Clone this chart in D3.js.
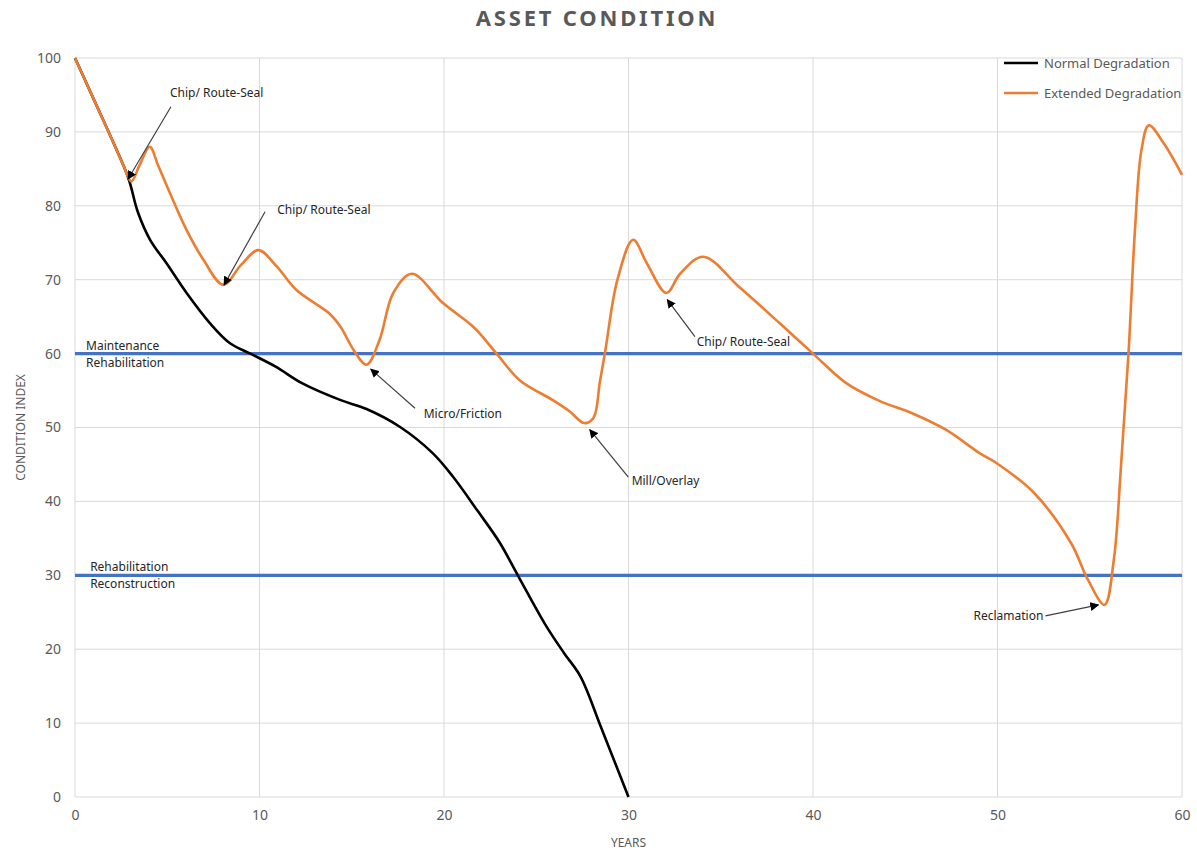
<!DOCTYPE html>
<html>
<head>
<meta charset="utf-8">
<script src="https://cdn.jsdelivr.net/npm/d3@7/dist/d3.min.js"></script>
<style>
  html, body { margin: 0; padding: 0; background: #fff; }
  svg { display: block; }
  text { font-family: "Noto Sans", "Open Sans", sans-serif; }
</style>
</head>
<body>
<svg id="chart" width="1197" height="853"></svg>
<script>
// ---- DATA ----
const chartTitle = "ASSET CONDITION";
const xTicks = [0, 10, 20, 30, 40, 50, 60];
const yTicks = [0, 10, 20, 30, 40, 50, 60, 70, 80, 90, 100];
const seriesNames = ["Normal Degradation", "Extended Degradation"];

const normalYears  = [0, 1, 2, 2.9, 3.4, 4.07, 4.97, 6.05, 7.32, 8.4, 9.5, 10.9, 12.3, 14.4, 15.8, 17.6, 19.4, 20.5, 21.8, 23, 24, 25.5, 26.5, 27.4, 28.5, 30];
const normalValues = [100, 94.5, 89, 83.7, 79.2, 75.4, 72.2, 68.2, 64.1, 61.4, 60, 58.2, 56, 53.7, 52.5, 50.1, 46.5, 43.3, 38.8, 34.5, 30, 23.3, 19.5, 16.3, 9.5, 0];

const extendedYears  = [0, 1, 2, 2.6, 3.05, 3.5, 4.05, 4.5, 5.15, 6.05, 6.96, 8.04, 9, 9.94, 10.93, 12, 13.8, 14.4, 15.1, 15.8, 16.5, 17.25, 18.25, 19.96, 21.6, 22.85, 24.1, 25.9, 26.8, 27.6, 28.1, 28.45, 28.75, 29.4, 30.25, 31, 32.05, 32.8, 34.05, 36, 38.2, 40, 41.8, 43.6, 45.4, 47.2, 49.05, 50, 52, 54, 54.9, 55.8, 56.3, 56.7, 57.1, 57.45, 57.8, 58.2, 59, 60];
const extendedValues = [100, 94.5, 89, 85.6, 83.3, 85.5, 88, 85.5, 81.7, 76.7, 72.7, 69.3, 72, 74, 71.8, 68.6, 65.4, 63.6, 60.5, 58.5, 61.8, 68.2, 70.8, 66.8, 63.6, 60, 56.4, 53.7, 52.2, 50.6, 51.3, 56.2, 60.5, 70, 75.4, 72.2, 68.2, 70.8, 73.1, 69, 64.1, 60, 56, 53.6, 51.9, 49.7, 46.5, 45.1, 41.1, 34.3, 29.4, 26, 32, 45, 60, 76.7, 87.5, 90.9, 88.5, 84.2];

const thresholdValues = [60, 30];
const thresholdLabels = [["Maintenance", "Rehabilitation"], ["Rehabilitation", "Reconstruction"]];
const thresholdLabelYears = [0.6, 0.82];

// annotations: label position (year, value) & arrow (from -> to) in data units
const annoTexts = ["Chip/ Route-Seal", "Chip/ Route-Seal", "Micro/Friction", "Mill/Overlay", "Chip/ Route-Seal", "Reclamation"];
const annoTextX = [5.15, 10.96, 18.9, 30.17, 33.7, 48.7];
const annoTextY = [95.3, 79.4, 51.8, 42.8, 61.6, 24.5];
const annoFromX = [5.2, 10.3, 18.43, 29.99, 33.6, 52.6];
const annoFromY = [93.4, 79.2, 52.6, 43.3, 62.3, 24.5];
const annoToX   = [2.87, 8.08, 16.03, 27.9, 32.1, 55.47];
const annoToY   = [83.6, 69.3, 57.9, 49.7, 67.3, 26.0];

// ---- CHART ----
const svg = d3.select("#chart");
const x = d3.scaleLinear().domain([0, 60]).range([75, 1182]);
const y = d3.scaleLinear().domain([0, 100]).range([797, 58]);
const gray = "#595959";
const gridColor = "#d9d9d9";

svg.append("defs").append("marker")
  .attr("id", "arrow").attr("viewBox", "0 0 10 10")
  .attr("refX", 9).attr("refY", 5)
  .attr("markerWidth", 9).attr("markerHeight", 9)
  .attr("markerUnits", "userSpaceOnUse")
  .attr("orient", "auto")
  .append("path").attr("d", "M0,0 L10,5 L0,10 Z").attr("fill", "#000");

// title
svg.append("text").attr("x", 597).attr("y", 26)
  .attr("text-anchor", "middle").attr("font-size", 22).attr("font-weight", "bold")
  .attr("letter-spacing", 2.8).attr("fill", gray).text(chartTitle);

// grid
const grid = svg.append("g");
grid.selectAll(".hg").data(yTicks).join("line")
  .attr("x1", x(0)).attr("x2", x(60))
  .attr("y1", d => y(d)).attr("y2", d => y(d))
  .attr("stroke", gridColor).attr("stroke-width", 1);
grid.selectAll(".vg").data(xTicks).join("line")
  .attr("x1", d => x(d)).attr("x2", d => x(d))
  .attr("y1", y(0)).attr("y2", y(100))
  .attr("stroke", gridColor).attr("stroke-width", 1);

// axes
const yAxis = svg.append("g").attr("transform", `translate(${x(0)},0)`)
  .call(d3.axisLeft(y).tickValues(yTicks).tickSize(0).tickPadding(14));
const xAxis = svg.append("g").attr("transform", `translate(0,${y(0)})`)
  .call(d3.axisBottom(x).tickValues(xTicks).tickSize(0).tickPadding(13));
[yAxis, xAxis].forEach(a => {
  a.select(".domain").remove();
  a.selectAll("text").attr("fill", gray).attr("font-size", 14)
    .attr("font-family", "'Noto Sans', sans-serif");
});

svg.append("text").attr("transform", `translate(21,${y(50)}) rotate(-90)`)
  .attr("text-anchor", "middle").attr("font-size", 12).attr("fill", gray)
  .attr("dy", "0.35em").text("CONDITION INDEX");
svg.append("text").attr("x", x(30)).attr("y", 847)
  .attr("text-anchor", "middle").attr("font-size", 12).attr("fill", gray)
  .text("YEARS");

// threshold lines
thresholdValues.forEach((v, i) => {
  svg.append("line").attr("x1", x(0)).attr("x2", x(60))
    .attr("y1", y(v)).attr("y2", y(v))
    .attr("stroke", "#4472C4").attr("stroke-width", 3.2);
  svg.append("text").attr("x", x(thresholdLabelYears[i])).attr("y", y(v) - 4)
    .attr("font-size", 12).attr("fill", "#262626").text(thresholdLabels[i][0]);
  svg.append("text").attr("x", x(thresholdLabelYears[i])).attr("y", y(v) + 13)
    .attr("font-size", 12).attr("fill", "#262626").text(thresholdLabels[i][1]);
});

// series
const line = d3.line().x(d => x(d[0])).y(d => y(d[1])).curve(d3.curveCatmullRom.alpha(0.5));
const normal = normalYears.map((d, i) => [d, normalValues[i]]);
const extended = extendedYears.map((d, i) => [d, extendedValues[i]]);
svg.append("path").datum(normal).attr("d", line)
  .attr("fill", "none").attr("stroke", "#000").attr("stroke-width", 2.6);
svg.append("path").datum(extended).attr("d", line)
  .attr("fill", "none").attr("stroke", "#ED7D31").attr("stroke-width", 2.6);

// annotations
annoTexts.forEach((t, i) => {
  svg.append("line")
    .attr("x1", x(annoFromX[i])).attr("y1", y(annoFromY[i]))
    .attr("x2", x(annoToX[i])).attr("y2", y(annoToY[i]))
    .attr("stroke", "#404040").attr("stroke-width", 1.2)
    .attr("marker-end", "url(#arrow)");
  svg.append("text").attr("x", x(annoTextX[i])).attr("y", y(annoTextY[i]))
    .attr("dy", "0.35em").attr("font-size", 12).attr("fill", "#262626").text(t);
});

// legend
const legendColors = ["#000", "#ED7D31"];
const legendY = [63, 93];
seriesNames.forEach((n, i) => {
  svg.append("line").attr("x1", 1004).attr("x2", 1038)
    .attr("y1", legendY[i]).attr("y2", legendY[i])
    .attr("stroke", legendColors[i]).attr("stroke-width", 2.6);
  svg.append("text").attr("x", 1044).attr("y", legendY[i]).attr("dy", "0.35em")
    .attr("font-size", 13).attr("fill", gray).text(n);
});
</script>
</body>
</html>
